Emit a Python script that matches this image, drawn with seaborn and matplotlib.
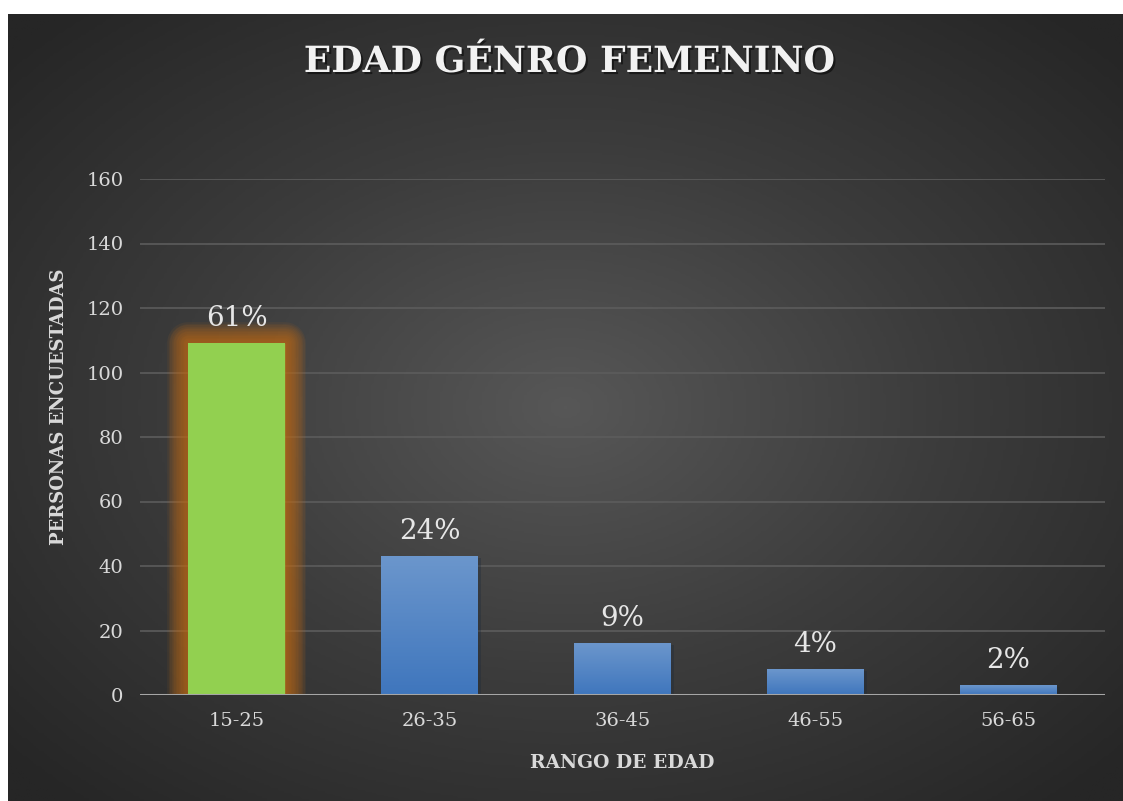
import numpy as np
import pandas as pd
import seaborn as sns
import matplotlib.pyplot as plt
import matplotlib.patheffects as pe
from matplotlib.colors import LinearSegmentedColormap

# datos
rangos = ["15-25", "26-35", "36-45", "46-55", "56-65"]
personas = [109, 43, 16, 8, 3]
porcentajes = ["61%", "24%", "9%", "4%", "2%"]

df = pd.DataFrame({"rango": rangos, "personas": personas})

sns.set_style("dark")
plt.rcParams["font.family"] = ["DejaVu Serif"]

fig = plt.figure(figsize=(11.23, 8.01), dpi=100)
fig.patch.set_facecolor("white")

# fondo oscuro con degradado radial
bg = fig.add_axes([8 / 1123, 0, 1 - 8 / 1123, 1 - 14 / 801], zorder=-10)
gx, gy = np.meshgrid(np.linspace(-1, 1, 400), np.linspace(-1, 1, 300))
r = np.sqrt(gx ** 2 + gy ** 2)
cmap_bg = LinearSegmentedColormap.from_list("bg", ["#575757", "#3c3c3c", "#262626"])
bg.imshow(np.clip(r / 1.35, 0, 1), cmap=cmap_bg, aspect="auto", extent=[0, 1, 0, 1], vmin=0, vmax=1)
bg.set_axis_off()

ax = fig.add_axes([140 / 1123, 1 - 695 / 801, (1105 - 140) / 1123, (695 - 179) / 801])
ax.patch.set_alpha(0)

colores = ["#92d050", "#4f81bd", "#4f81bd", "#4f81bd", "#4f81bd"]
sns.barplot(data=df, x="rango", y="personas", hue="rango", palette=colores,
            width=0.5, legend=False, ax=ax, zorder=3, saturation=1, linewidth=0)

barras = ax.patches
for p in barras:
    p.set_linewidth(0)
    p.set_edgecolor("none")

# brillo naranja alrededor de la barra verde
glow = [pe.Stroke(linewidth=lw, foreground="#c06c18", alpha=0.09, joinstyle="round")
        for lw in range(30, 1, -2)]
barras[0].set_path_effects(glow + [pe.Normal()])

# degradado vertical en las barras azules
cmap_bar = LinearSegmentedColormap.from_list("bar", ["#3f76bd", "#6b96cc"])
for p in barras[1:]:
    x0, y0 = p.get_x(), p.get_y()
    w, h = p.get_width(), p.get_height()
    grad = np.linspace(0, 1, 100).reshape(-1, 1)
    im = ax.imshow(grad, cmap=cmap_bar, origin="lower", aspect="auto",
                   extent=[x0, x0 + w, y0, y0 + h], zorder=4)
    im.set_clip_path(p)
    p.set_path_effects([pe.SimplePatchShadow(offset=(2, -1), alpha=0.3), pe.Normal()])

for p, txt in zip(barras, porcentajes):
    ax.text(p.get_x() + p.get_width() / 2, p.get_height() + 3.5, txt,
            ha="center", va="bottom", fontsize=20, color="#e6e6e6", zorder=6)

ax.set_xlim(-0.5, 4.5)
ax.set_ylim(0, 160)
ax.set_yticks(range(0, 161, 20))
ax.grid(axis="y", color="#5c5c5c", linewidth=1.2, zorder=0)
ax.grid(axis="x", visible=False)
ax.axhline(0, color="#a6a6a6", linewidth=2.2, zorder=5)
for s in ax.spines.values():
    s.set_visible(False)
ax.tick_params(axis="both", colors="#d9d9d9", labelsize=14, length=0, pad=12)

ax.set_xlabel("RANGO DE EDAD", fontsize=13.5, fontweight="bold", color="#d9d9d9")
ax.xaxis.set_label_coords(0.5, -0.115)
ax.set_ylabel("PERSONAS ENCUESTADAS", fontsize=13, fontweight="bold", color="#d9d9d9")
ax.yaxis.set_label_coords(-0.075, 0.558)

fig.text(570 / 1123, 1 - 62 / 801, "EDAD GÉNRO FEMENINO", ha="center", va="center",
         fontsize=26, fontweight="bold", color="#f2f2f2",
         path_effects=[pe.SimplePatchShadow(offset=(1.5, -1.5), shadow_rgbFace="black", alpha=0.5),
                       pe.Normal()])

fig.savefig("out.png", dpi=100)
